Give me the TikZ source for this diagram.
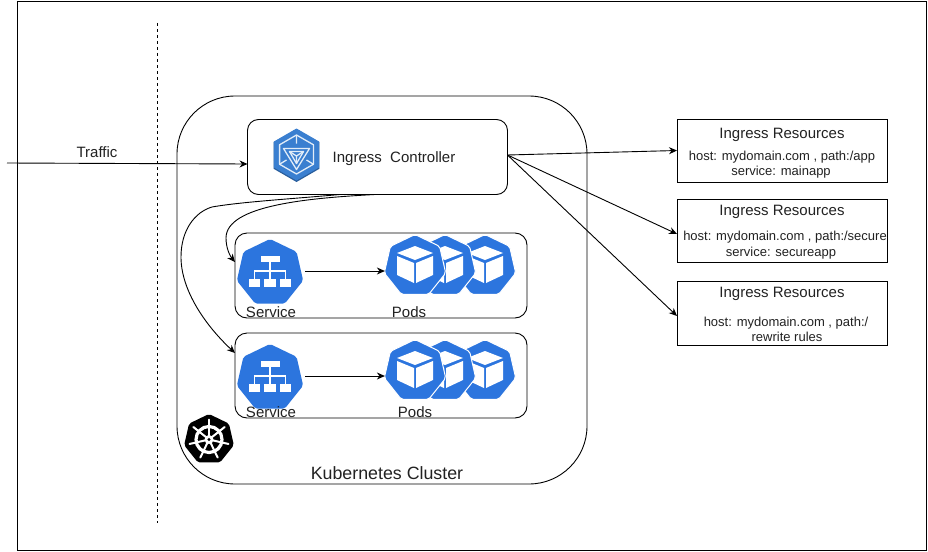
\documentclass[tikz,border=0pt]{standalone}
\usepackage{fontspec}
\setmainfont{Liberation Sans}
\usetikzlibrary{arrows.meta,shapes.geometric,calc}
\definecolor{kblue}{HTML}{2C75DE}
\definecolor{iblue}{HTML}{3A7FD0}
\definecolor{ishade}{HTML}{2A5E9C}
\definecolor{itext}{HTML}{222222}
\tikzset{
  x=1pt,y=-1pt,
  line/.style={line width=0.9pt,draw=black},
  arr/.style={line,-{Stealth[length=8pt,width=7pt]}},
  rbox/.style={line,rectangle,inner sep=0,outer sep=0},
  lab/.style={text=itext,inner sep=0,font=\fontsize{13}{15}\selectfont},
  iconlab/.style={text=itext,inner sep=0,font=\fontsize{15}{17}\selectfont},
  title/.style={text=itext,inner sep=0,font=\fontsize{15}{17}\selectfont},
  hept/.style={regular polygon,regular polygon sides=7,inner sep=0,outer sep=0,minimum size=#1,rounded corners=2pt},
  svcicon/.style={hept=68pt,fill=kblue},
  podicon/.style={hept=63pt,fill=kblue,draw=white,line width=1pt},
  ingicon/.style={regular polygon,regular polygon sides=6,shape border rotate=30,inner sep=0,outer sep=0,minimum size=#1},
}
\newcommand{\podcube}[1]{%
  \begin{scope}[shift={(#1)}]
    \fill[white] (-18,-13)--(0,-20)--(18,-13)--(0,-6)--cycle;
    \fill[white] (-18,-10)--(-1,-3)--(-1,17)--(-18,9)--cycle;
    \fill[white] (18,-10)--(1,-3)--(1,17)--(18,9)--cycle;
  \end{scope}}
\newcommand{\svcglyph}[1]{%
  \begin{scope}[shift={(#1)}]
    \fill[white] (-9.5,-17.5) rectangle (9.5,-11);
    \fill[white] (-21,5.5) rectangle (-10,13.5);
    \fill[white] (-6,5.5) rectangle (6,13.5);
    \fill[white] (10,5.5) rectangle (21,13.5);
    \draw[white,line width=1.2pt] (0,-11)--(0,5.5) (-15.5,5.5)--(-15.5,-2)--(15.5,-2)--(15.5,5.5);
  \end{scope}}
\newcommand{\podgroup}[2]{%
  \node[podicon] (#13) at (485,#2) {};
  \podcube{#13}
  \node[podicon] (#12) at (445,#2) {};
  \podcube{#12}
  \node[podicon] (#11) at (415,#2) {};
  \podcube{#11}
}
\begin{document}
\begin{tikzpicture}
\useasboundingbox (0,0) rectangle (928,551);
\fill[white] (0,0) rectangle (928,551);
% outer frame and boundary
\draw[line] (17.5,1) rectangle (926.7,550);
\coordinate (dashtop) at (157.5,23);
\coordinate (dashbot) at (157.5,523);
\draw[line,dashed,dash pattern=on 3pt off 3pt] (dashtop) -- (dashbot);
% cluster
\node[rbox,rounded corners=58pt,minimum width=410pt,minimum height=388pt] (cluster) at (382,290) {};
\node[title,font=\fontsize{17.8}{20}\selectfont] (clusterlabel) at (387,473) {Kubernetes Cluster};
% ingress controller
\node[rbox,rounded corners=11pt,minimum width=260pt,minimum height=75pt] (ctrl) at (377.5,157) {};
\node[ingicon=53pt,fill=ishade] (ingshade) at (296.5,155.5) {};
\node[ingicon=52pt,fill=iblue] (ing) at (296.5,154.5) {};
\begin{scope}[shift={(ing)},white!85!iblue,line width=1.3pt,line join=round]
  \draw (0,-19.5)--(16.9,-9.75)--(16.9,9.75)--(0,19.5)--(-16.9,9.75)--(-16.9,-9.75)--cycle;
  \draw (-13,-6)--(13,-6)--(0,15)--cycle;
  \draw (-7,-3)--(7,-3)--(0,9)--cycle;
  \draw (0,1.5)--(0,9) (0,1.5)--(-7,-3) (0,1.5)--(7,-3);
  \draw (0,-19.5)--(0,-11) (16.9,9.75)--(10,5.5) (-16.9,9.75)--(-10,5.5);
\end{scope}
\node[title] (ctrllabel) at (394,158.5) {Ingress\ \ Controller};
% service boxes
\node[rbox,rounded corners=12pt,minimum width=292pt,minimum height=85pt] (box1) at (381,275.5) {};
\node[rbox,rounded corners=12pt,minimum width=292pt,minimum height=85pt] (box2) at (381,375.5) {};
% row 1
\node[svcicon] (svc1) at (270,273) {};
\svcglyph{svc1}
\podgroup{pa}{266}
\draw[arr] ($(svc1.east)+(4,-2)$) -- ($(svc1.east -| pa1.west)+(-1,-2)$);
\node[iconlab] (svc1label) at (271,312.5) {Service};
\node[iconlab] (pod1label) at (409,312.5) {Pods};
% row 2
\node[svcicon] (svc2) at (270,378) {};
\svcglyph{svc2}
\podgroup{pb}{371}
\draw[arr] ($(svc2.east)+(4,-2)$) -- ($(svc2.east -| pb1.west)+(-1,-2)$);
\node[iconlab] (svc2label) at (271,412.5) {Service};
\node[iconlab] (pod2label) at (415,412.5) {Pods};
% kubernetes logo
\node[hept=51pt,fill=black] (kube) at (209,439.5) {};
\begin{scope}[shift={(kube)},white]
  \draw[line width=3.2pt] (0,0) circle[radius=13];
  \fill (0,0) circle[radius=4.5];
  \fill[black] (0,0) circle[radius=1.6];
  \foreach \a in {-90,-38.6,12.9,64.3,115.7,167.1,218.6}{
    \draw[line width=2pt,line cap=round] ({4*cos(\a)},{4*sin(\a)}) -- ({20*cos(\a)},{20*sin(\a)});
  }
\end{scope}
% resources
\node[rbox,minimum width=210pt,minimum height=63pt] (res1) at (782,150.5) {};
\node[rbox,minimum width=210pt,minimum height=63pt] (res2) at (782,230.5) {};
\node[rbox,minimum width=210pt,minimum height=64pt] (res3) at (782,313) {};
\node[title] (r1t) at (782,135) {Ingress Resources};
\node[lab] (r1a) at (782,157.5) {host: mydomain.com , path:/app};
\node[lab] (r1b) at (781,172.5) {service: mainapp};
\node[title] (r2t) at (782,212) {Ingress Resources};
\node[lab] (r2a) at (785,237.5) {host: mydomain.com , path:/secure};
\node[lab] (r2b) at (781,253.5) {service: secureapp};
\node[title] (r3t) at (782,294) {Ingress Resources};
\node[lab] (r3a) at (786,323.5) {host: mydomain.com , path:/};
\node[lab] (r3b) at (787,337) {rewrite rules};
% traffic
\coordinate (trafficstart) at (7,163);
\draw[arr] (trafficstart) -- ([yshift=-7pt]ctrl.west);
\node[title] (trafficlabel) at (97,152) {Traffic};
% connectors
\draw[arr] ([yshift=2pt]ctrl.east) -- (res1.west);
\draw[arr] ([yshift=2pt]ctrl.east) -- ([yshift=-3.5pt]res2.west);
\draw[arr] ([yshift=2pt]ctrl.east) -- ([yshift=-3pt]res3.west);
\draw[arr] ([xshift=-2.5pt]ctrl.south) .. controls (310,198) and (226,205) .. (226,238) .. controls (226,248) and (230,256) .. ([yshift=13.5pt]box1.west);
\draw[arr] ([xshift=-37.5pt]ctrl.south) .. controls (290,199) and (240,202) .. (212,207) .. controls (195,212) and (181,230) .. (181,257) .. controls (181,290) and (205,325) .. ([yshift=22.5pt]box2.west);
\end{tikzpicture}
\end{document}
